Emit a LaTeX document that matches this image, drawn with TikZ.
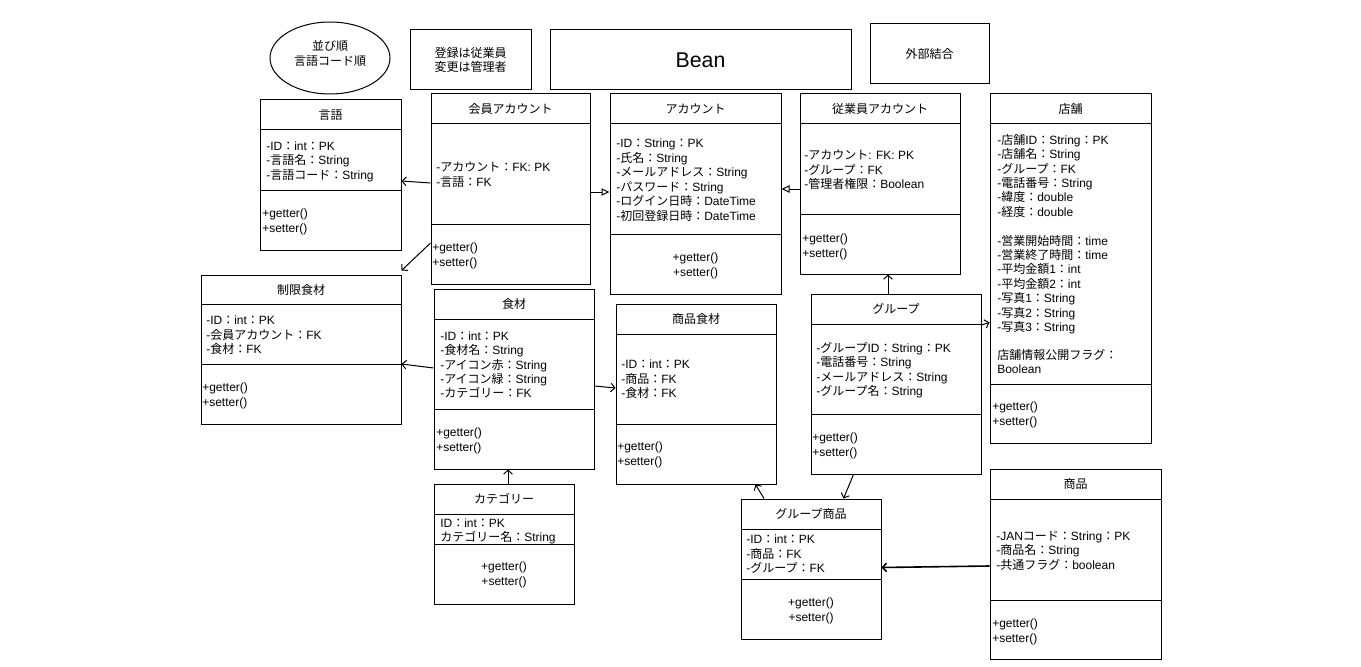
\documentclass[tikz,border=0pt]{standalone}
\usepackage{fontspec}
\setmainfont{Liberation Sans}
\newfontfamily\latinfont{Liberation Sans}
\newfontfamily\cjkfont{Noto Sans CJK JP}
\usetikzlibrary{arrows.meta,fit,shapes.geometric}
\chardef\cjkclass=200
\count255="3000 \loop\XeTeXcharclass\count255=\cjkclass\relax\ifnum\count255<"30FF \advance\count255 by 1 \repeat
\count255="4E00 \loop\XeTeXcharclass\count255=\cjkclass\relax\ifnum\count255<"9FFF \advance\count255 by 1 \repeat
\count255="FF00 \loop\XeTeXcharclass\count255=\cjkclass\relax\ifnum\count255<"FFEF \advance\count255 by 1 \repeat
\XeTeXinterchartoks 0 \cjkclass = {\cjkfont}
\XeTeXinterchartoks 4095 \cjkclass = {\cjkfont}
\XeTeXinterchartoks \cjkclass 0 = {\latinfont}
\XeTeXinterchartoks \cjkclass 4095 = {\latinfont}
\XeTeXinterchartokenstate=1
\newcommand{\txt}{\fontsize{9}{10.8}\selectfont}
\tikzset{
  box/.style={draw, line width=0.75pt, inner sep=0pt},
  attr/.style={anchor=base west, inner sep=0pt, yshift=-3.4pt, font=\txt},
  ctext/.style={anchor=base, inner sep=0pt, yshift=-3.4pt, font=\txt},
  dep/.style={draw, line width=0.75pt, -{Straight Barb[length=3pt,width=6.5pt]}},
  inh/.style={draw, line width=0.75pt, -{Triangle[open,length=6pt,width=5.5pt]}},
}
\begin{document}
\begin{tikzpicture}[x=0.75pt,y=-0.75pt]
\useasboundingbox[fill=white] (0,0) rectangle (1361,667);

% notes
\node[draw, line width=0.75pt, ellipse, minimum width=90pt, minimum height=54pt, inner sep=0pt] (order) at (330,58) {};
\node[ctext] (orderA) at (330,46) {並び順};
\node[ctext] (orderB) at (330,60.5) {言語コード順};
\node[box, fit={(410,30) (531,90)}] (memo) {};
\node[ctext] (memoA) at (470.5,52.5) {登録は従業員};
\node[ctext] (memoB) at (470.5,67) {変更は管理者};
\node[box, fit={(550,30) (851,90)}] (bean) {};
\node[anchor=base, inner sep=0pt, yshift=-5.8pt, font=\fontsize{16}{19}\selectfont] (beanT) at (700.5,60) {Bean};
\node[box, fit={(870,24) (989,84)}] (gaibu) {};
\node[ctext] (gaibuT) at (929.5,54) {外部結合};

% 言語
\node[box, fit={(260,100) (401,250)}] (gengo) {};
\draw[line width=0.75pt] (gengo.west |- 0,130) -- (gengo.east |- 0,130);
\draw[line width=0.75pt] (gengo.west |- 0,190) -- (gengo.east |- 0,190);
\node[ctext] (gengoT) at (330.5,115) {言語};
\foreach \t [count=\i from 0] in {-ID：int：PK, -言語名：String, -言語コード：String}
  \node[attr] (gengoA\i) at (266,146+14.4*\i) {\t};
\foreach \t [count=\i from 0] in {+getter(), +setter()}
  \node[attr] (gengoM\i) at (262,213+15*\i) {\t};

% 会員アカウント
\node[box, fit={(431,94) (590,284)}] (kaiin) {};
\draw[line width=0.75pt] (kaiin.west |- 0,124) -- (kaiin.east |- 0,124);
\draw[line width=0.75pt] (kaiin.west |- 0,224) -- (kaiin.east |- 0,224);
\node[ctext] (kaiinT) at (510.5,109) {会員アカウント};
\foreach \t [count=\i from 0] in {-アカウント：FK: PK, -言語：FK}
  \node[attr] (kaiinA\i) at (436,167+15*\i) {\t};
\foreach \t [count=\i from 0] in {+getter(), +setter()}
  \node[attr] (kaiinM\i) at (432,247+15*\i) {\t};

% アカウント
\node[box, fit={(610,94) (781,294)}] (account) {};
\draw[line width=0.75pt] (account.west |- 0,124) -- (account.east |- 0,124);
\draw[line width=0.75pt] (account.west |- 0,234) -- (account.east |- 0,234);
\node[ctext] (accountT) at (695.5,109) {アカウント};
\foreach \t [count=\i from 0] in {-ID：String：PK, -氏名：String, -メールアドレス：String, -パスワード：String, -ログイン日時：DateTime, -初回登録日時：DateTime}
  \node[attr] (accountA\i) at (616,143+14.5*\i) {\t};
\foreach \t [count=\i from 0] in {+getter(), +setter()}
  \node[ctext] (accountM\i) at (695.5,257+15*\i) {\t};

% 従業員アカウント
\node[box, fit={(800,94) (960,274)}] (jugyoin) {};
\draw[line width=0.75pt] (jugyoin.west |- 0,124) -- (jugyoin.east |- 0,124);
\draw[line width=0.75pt] (jugyoin.west |- 0,214) -- (jugyoin.east |- 0,214);
\node[ctext] (jugyoinT) at (880,109) {従業員アカウント};
\foreach \t [count=\i from 0] in {-アカウント: FK: PK, -グループ：FK, -管理者権限：Boolean}
  \node[attr] (jugyoinA\i) at (804,155+14.5*\i) {\t};
\foreach \t [count=\i from 0] in {+getter(), +setter()}
  \node[attr] (jugyoinM\i) at (802,238+14.5*\i) {\t};

% 店舗
\node[box, fit={(990,94) (1151,443)}] (tenpo) {};
\draw[line width=0.75pt] (tenpo.west |- 0,124) -- (tenpo.east |- 0,124);
\draw[line width=0.75pt] (tenpo.west |- 0,384) -- (tenpo.east |- 0,384);
\node[ctext] (tenpoT) at (1070.5,109) {店舗};
\foreach \t [count=\i from 0] in {-店舗ID：String：PK, -店舗名：String, -グループ：FK, -電話番号：String, -緯度：double, -経度：double}
  \node[attr] (tenpoA\i) at (997,139.7+14.4*\i) {\t};
\foreach \t [count=\i from 0] in {-営業開始時間：time, -営業終了時間：time, -平均金額1：int, -平均金額2：int, -写真1：String, -写真2：String, -写真3：String}
  \node[attr] (tenpoB\i) at (997,240.5+14.4*\i) {\t};
\foreach \t [count=\i from 0] in {店舗情報公開フラグ：, Boolean}
  \node[attr] (tenpoC\i) at (997,355+14.4*\i) {\t};
\foreach \t [count=\i from 0] in {+getter(), +setter()}
  \node[attr] (tenpoM\i) at (992,406+14.5*\i) {\t};

% 制限食材
\node[box, fit={(201,275) (401,424)}] (seigen) {};
\draw[line width=0.75pt] (seigen.west |- 0,304) -- (seigen.east |- 0,304);
\draw[line width=0.75pt] (seigen.west |- 0,364) -- (seigen.east |- 0,364);
\node[ctext] (seigenT) at (301,289.5) {制限食材};
\foreach \t [count=\i from 0] in {-ID：int：PK, -会員アカウント：FK, -食材：FK}
  \node[attr] (seigenA\i) at (206,320+14.5*\i) {\t};
\foreach \t [count=\i from 0] in {+getter(), +setter()}
  \node[attr] (seigenM\i) at (202,387+15*\i) {\t};

% 食材
\node[box, fit={(434,289) (594,469)}] (shokuzai) {};
\draw[line width=0.75pt] (shokuzai.west |- 0,319) -- (shokuzai.east |- 0,319);
\draw[line width=0.75pt] (shokuzai.west |- 0,409) -- (shokuzai.east |- 0,409);
\node[ctext] (shokuzaiT) at (514,304) {食材};
\foreach \t [count=\i from 0] in {-ID：int：PK, -食材名：String, -アイコン赤：String, -アイコン緑：String, -カテゴリー：FK}
  \node[attr] (shokuzaiA\i) at (440,335.7+14.4*\i) {\t};
\foreach \t [count=\i from 0] in {+getter(), +setter()}
  \node[attr] (shokuzaiM\i) at (436,432+15*\i) {\t};

% 商品食材
\node[box, fit={(616,304) (776,484)}] (shsk) {};
\draw[line width=0.75pt] (shsk.west |- 0,334) -- (shsk.east |- 0,334);
\draw[line width=0.75pt] (shsk.west |- 0,424) -- (shsk.east |- 0,424);
\node[ctext] (shskT) at (696,319) {商品食材};
\foreach \t [count=\i from 0] in {-ID：int：PK, -商品：FK, -食材：FK}
  \node[attr] (shskA\i) at (621,364.3+14.5*\i) {\t};
\foreach \t [count=\i from 0] in {+getter(), +setter()}
  \node[attr] (shskM\i) at (617,446+15*\i) {\t};

% グループ
\node[box, fit={(811,294) (981,474)}] (group) {};
\draw[line width=0.75pt] (group.west |- 0,324) -- (group.east |- 0,324);
\draw[line width=0.75pt] (group.west |- 0,414) -- (group.east |- 0,414);
\node[ctext] (groupT) at (896,309) {グループ};
\foreach \t [count=\i from 0] in {-グループID：String：PK, -電話番号：String, -メールアドレス：String, -グループ名：String}
  \node[attr] (groupA\i) at (816,347.7+14.4*\i) {\t};
\foreach \t [count=\i from 0] in {+getter(), +setter()}
  \node[attr] (groupM\i) at (812,436.7+15*\i) {\t};

% カテゴリー
\node[box, fit={(434,484) (574,604)}] (category) {};
\draw[line width=0.75pt] (category.west |- 0,514) -- (category.east |- 0,514);
\draw[line width=0.75pt] (category.west |- 0,544) -- (category.east |- 0,544);
\node[ctext] (categoryT) at (504,499.3) {カテゴリー};
\foreach \t [count=\i from 0] in {ID：int：PK, カテゴリー名：String}
  \node[attr] (categoryA\i) at (440,523.3+14*\i) {\t};
\foreach \t [count=\i from 0] in {+getter(), +setter()}
  \node[ctext] (categoryM\i) at (504,566+15*\i) {\t};

% グループ商品
\node[box, fit={(741,499) (881,639)}] (gshohin) {};
\draw[line width=0.75pt] (gshohin.west |- 0,529) -- (gshohin.east |- 0,529);
\draw[line width=0.75pt] (gshohin.west |- 0,579) -- (gshohin.east |- 0,579);
\node[ctext] (gshohinT) at (811,514.3) {グループ商品};
\foreach \t [count=\i from 0] in {-ID：int：PK, -商品：FK, -グループ：FK}
  \node[attr] (gshohinA\i) at (746,539.3+14.5*\i) {\t};
\foreach \t [count=\i from 0] in {+getter(), +setter()}
  \node[ctext] (gshohinM\i) at (811,601.7+15*\i) {\t};

% 商品
\node[box, fit={(990,469) (1161,659)}] (shohin) {};
\draw[line width=0.75pt] (shohin.west |- 0,499) -- (shohin.east |- 0,499);
\draw[line width=0.75pt] (shohin.west |- 0,600) -- (shohin.east |- 0,600);
\node[ctext] (shohinT) at (1075.5,484.3) {商品};
\foreach \t [count=\i from 0] in {-JANコード：String：PK, -商品名：String, -共通フラグ：boolean}
  \node[attr] (shohinA\i) at (996,536+14.3*\i) {\t};
\foreach \t [count=\i from 0] in {+getter(), +setter()}
  \node[attr] (shohinM\i) at (992,623.3+14.5*\i) {\t};

% connectors
\draw[dep] (kaiin.west |- 0,183) -- (gengo.east |- 0,181);
\draw[dep] (kaiin.west |- 0,243) -- ([yshift=3pt]seigen.north east);
\draw[inh] (kaiin.east |- 0,192) -- (account.west |- 0,192);
\draw[inh] (jugyoin.west |- 0,189) -- (account.east |- 0,189);
\draw[dep] (group.north -| 888,0) -- (jugyoin.south -| 888,0);
\draw[dep] (group.east |- 0,325) -- (tenpo.west |- 0,322.5);
\draw[dep] (shokuzai.west |- 0,368) -- (seigen.east |- 0,364);
\draw[dep] (shokuzai.east |- 0,386) -- (shsk.west |- 0,388);
\draw[dep] (category.north -| 508,0) -- (shokuzai.south -| 508,0);
\draw[dep] (gshohin.north -| 764,0) -- (shsk.south -| 755.5,0);
\draw[dep] (group.south -| 853.5,0) -- (gshohin.north -| 843.5,0);
\draw[dep, line width=1.2pt] (shohin.west |- 0,566) -- (gshohin.east |- 0,567.5);
\end{tikzpicture}
\end{document}
